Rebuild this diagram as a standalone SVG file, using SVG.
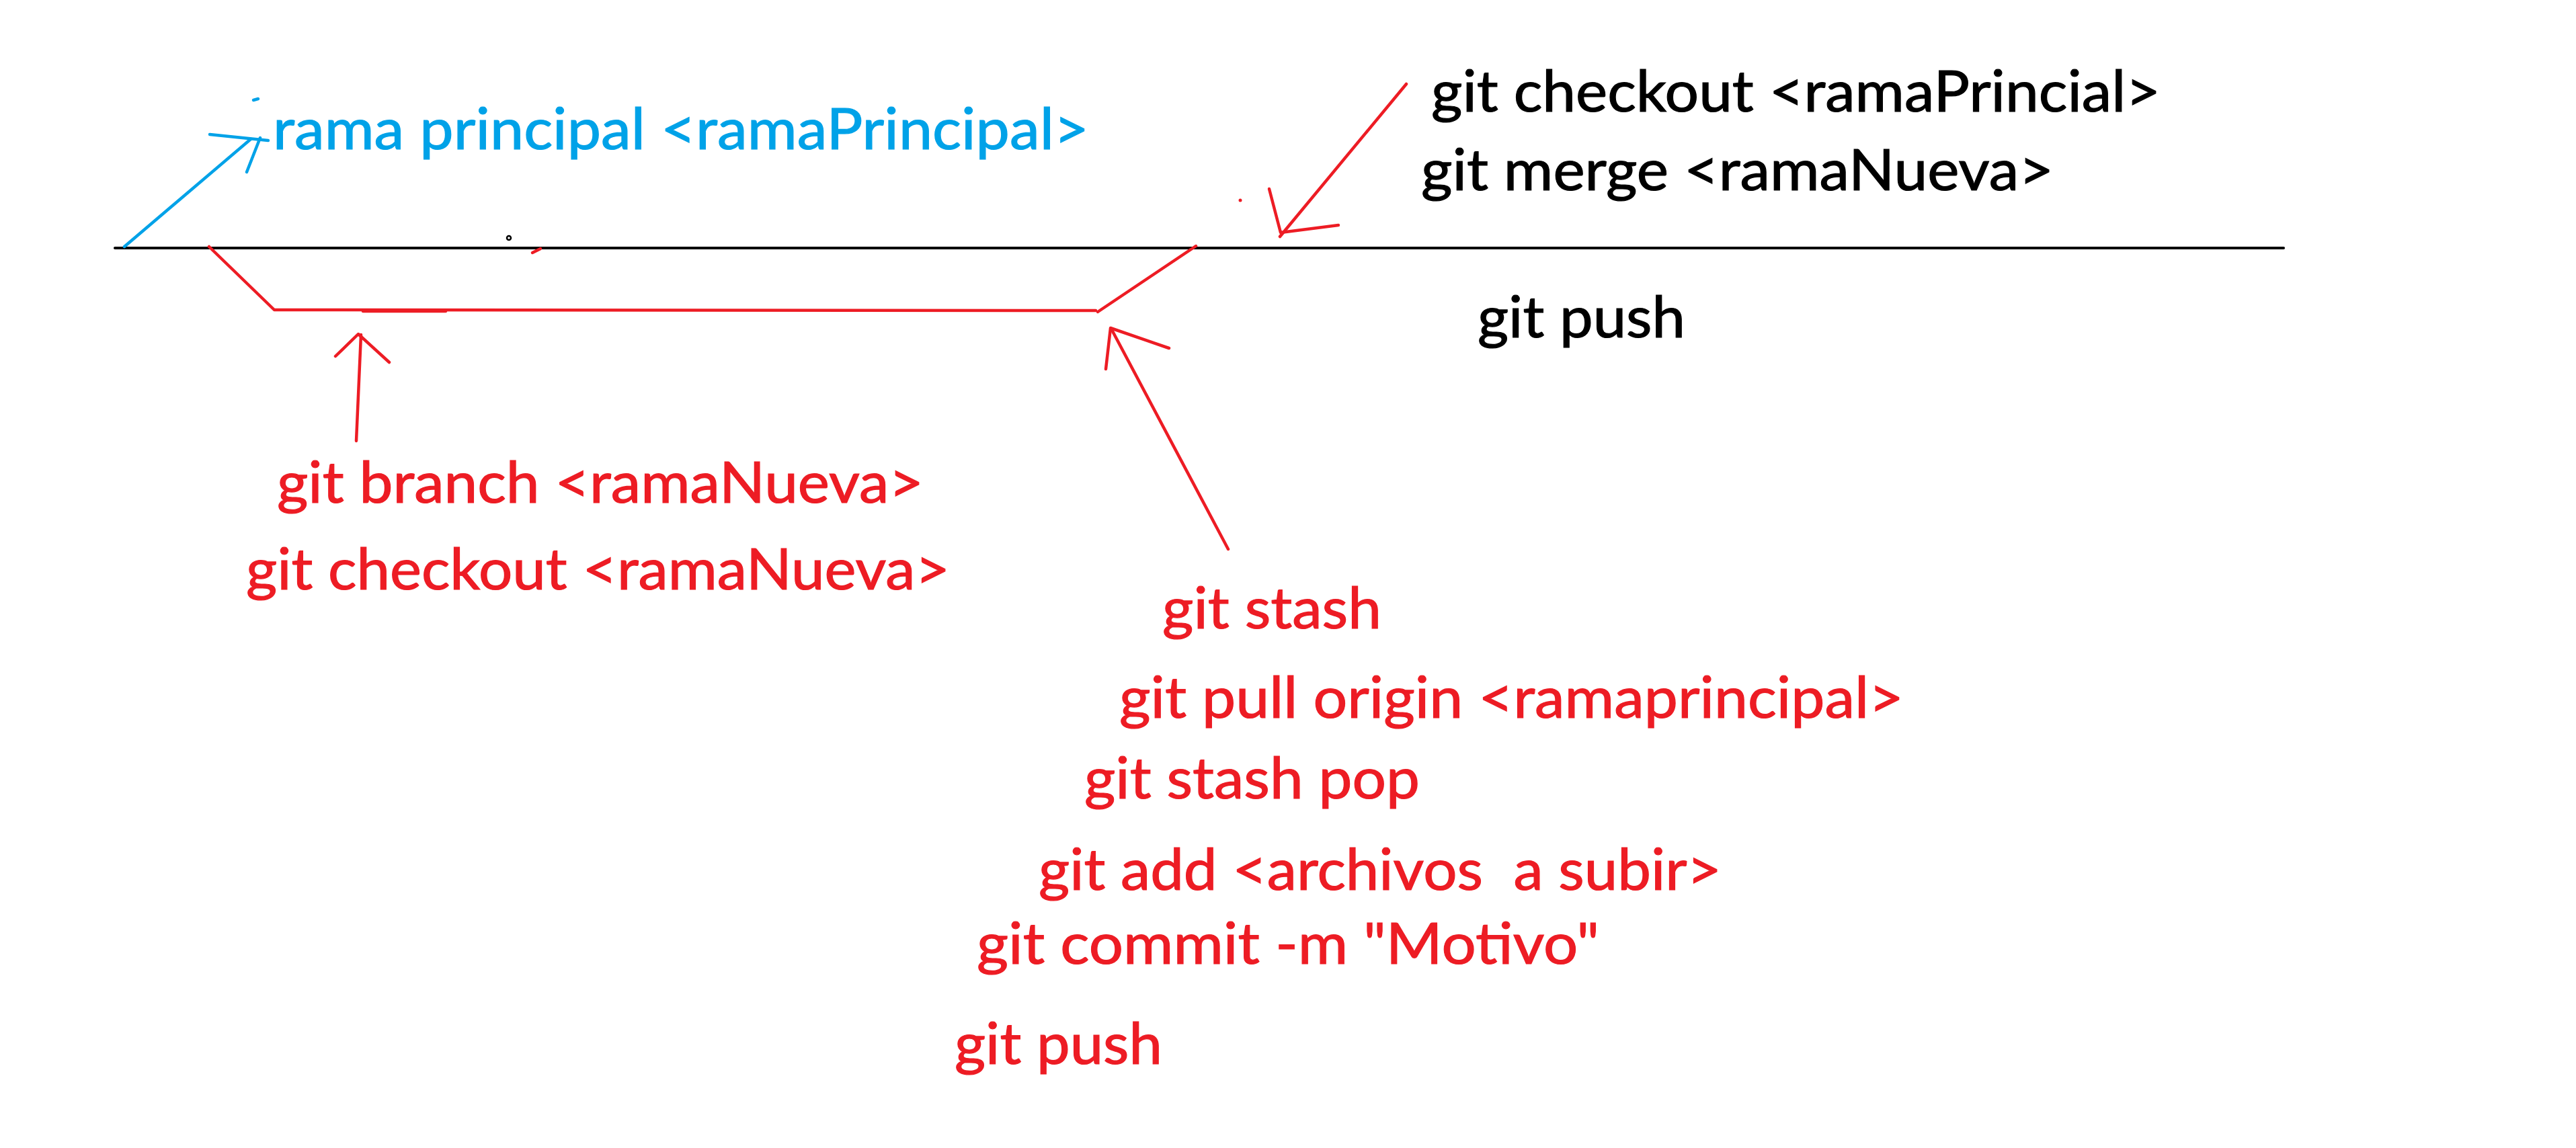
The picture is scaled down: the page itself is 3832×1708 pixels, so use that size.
<svg xmlns="http://www.w3.org/2000/svg" width="3832" height="1708" viewBox="0 0 3832 1708">
<style>
.t{font-family:Lato,"Open Sans","Liberation Sans",sans-serif;font-size:86px;white-space:pre;stroke-width:1.2}
.red{fill:#ED1C24;stroke:#ED1C24}.blue{fill:#00A2E8;stroke:#00A2E8}.blk{fill:#000;stroke:#000}
.sr{stroke:#ED1C24;stroke-width:4.5;fill:none;stroke-linecap:round;stroke-linejoin:round}
.sb{stroke:#00A2E8;stroke-width:4.5;fill:none;stroke-linecap:round;stroke-linejoin:round}
.sk{stroke:#000;stroke-width:4;fill:none;stroke-linecap:round}
</style>
<rect width="3832" height="1708" fill="#fff"/>
<g id="connectors">
  <line class="sk" x1="171" y1="369" x2="3397" y2="369"/>
  <polyline class="sr" points="311,367 408,461 1630,462"/>
  <line class="sr" x1="540" y1="463" x2="663" y2="463"/>
  <line class="sr" x1="1633" y1="464" x2="1779" y2="366"/>
  <line class="sr" x1="792" y1="376" x2="804" y2="370"/>
  <circle cx="757" cy="354" r="3" fill="none" stroke="#000" stroke-width="2.5"/>
  <g id="arrow-main">
    <line class="sb" x1="185" y1="367" x2="373" y2="207"/>
    <line class="sb" x1="312" y1="200" x2="399" y2="209"/>
    <line class="sb" x1="387" y1="205" x2="367" y2="256"/>
    <line class="sb" x1="377" y1="149" x2="384" y2="147"/>
  </g>
  <g id="arrow-merge">
    <line class="sr" x1="2092" y1="125" x2="1904" y2="352"/>
    <polyline class="sr" points="1888,281 1905,346 1991,335"/>
    <circle cx="1845" cy="298" r="2.5" fill="#ED1C24"/>
  </g>
  <g id="arrow-branch">
    <line class="sr" x1="530" y1="656" x2="537" y2="498"/>
    <polyline class="sr" points="499,530 533,497 579,539"/>
  </g>
  <g id="arrow-sync">
    <line class="sr" x1="1827" y1="817" x2="1653" y2="489"/>
    <polyline class="sr" points="1645,549 1652,488 1739,518"/>
  </g>
</g>
<g id="node-main"><text class="t blue" x="406" y="222" textLength="1214" lengthAdjust="spacingAndGlyphs">rama principal &lt;ramaPrincipal&gt;</text></g>
<g id="node-checkout-main"><text class="t blk" x="2129" y="166" textLength="1085" lengthAdjust="spacingAndGlyphs">git checkout &lt;ramaPrincial&gt;</text></g>
<g id="node-merge"><text class="t blk" x="2114" y="283" textLength="941" lengthAdjust="spacingAndGlyphs">git merge &lt;ramaNueva&gt;</text></g>
<g id="node-push-main"><text class="t blk" x="2198" y="502" textLength="309" lengthAdjust="spacingAndGlyphs">git push</text></g>
<g id="node-branch"><text class="t red" x="412" y="748" textLength="962" lengthAdjust="spacingAndGlyphs">git branch &lt;ramaNueva&gt;</text></g>
<g id="node-checkout-new"><text class="t red" x="366" y="877" textLength="1047" lengthAdjust="spacingAndGlyphs">git checkout &lt;ramaNueva&gt;</text></g>
<g id="node-stash"><text class="t red" x="1729" y="935" textLength="326" lengthAdjust="spacingAndGlyphs">git stash</text></g>
<g id="node-pull"><text class="t red" x="1665" y="1068" textLength="1167" lengthAdjust="spacingAndGlyphs">git pull origin &lt;ramaprincipal&gt;</text></g>
<g id="node-stash-pop"><text class="t red" x="1613" y="1188" textLength="499" lengthAdjust="spacingAndGlyphs">git stash pop</text></g>
<g id="node-add"><text class="t red" x="1545" y="1324" textLength="1016" lengthAdjust="spacingAndGlyphs">git add &lt;archivos  a subir&gt;</text></g>
<g id="node-commit"><text class="t red" x="1453" y="1434" textLength="926" lengthAdjust="spacingAndGlyphs">git commit -m "Motivo"</text></g>
<g id="node-push"><text class="t red" x="1420" y="1583" textLength="309" lengthAdjust="spacingAndGlyphs">git push</text></g>
</svg>
